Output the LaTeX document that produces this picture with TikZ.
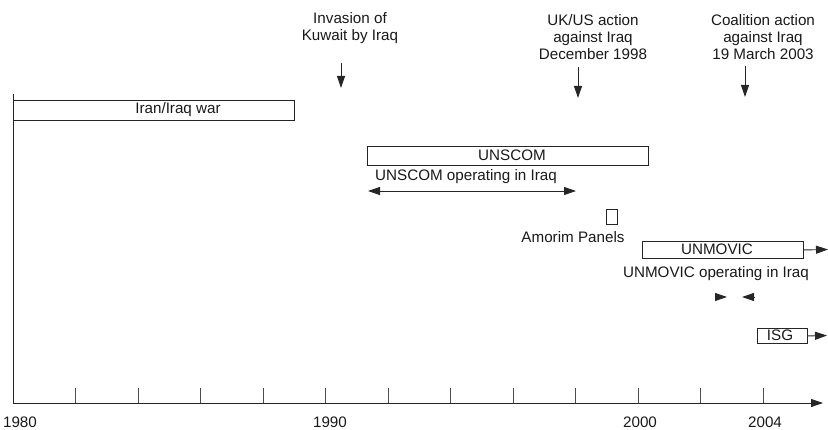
\documentclass[tikz,border=0pt]{standalone}
\usepackage{fontspec}
\setmainfont{Liberation Sans}
\usetikzlibrary{arrows.meta}
\begin{document}
\begin{tikzpicture}[x=1pt, y=-1pt,
  every node/.style={font=\fontsize{15.2}{17}\selectfont, text=black!90, inner sep=0pt},
  bar/.style={draw=black!85, line width=0.9pt, anchor=north west},
  pfeil/.style={draw=black!85, line width=0.9pt, -{Triangle[length=12pt, width=8pt]}}]
  \useasboundingbox (0, 0) rectangle (828, 430);
  % Zeitachse mit Jahresmarken (1 Jahr = 31.25)
  \coordinate (ursprung) at (13, 403);
  \coordinate (oben) at (13, 94);
  \coordinate (ende) at (823, 403);
  \draw[black!85, line width=0.9pt] (oben) -- (ursprung);
  \draw[pfeil] (ursprung) -- (ende);
  \foreach \i in {1,...,12}{ \draw[black!70, line width=0.9pt] (13+62.5*\i, 388) -- (13+62.5*\i, 403); }
  \node (j1980) at (20, 422) {1980};
  \node (j1990) at (330, 422) {1990};
  \node (j2000) at (640, 422) {2000};
  \node (j2004) at (765, 422) {2004};
  % Ereignisse oben
  \node[align=center] (kuwait) at (350, 28) {Invasion of\\Kuwait by Iraq};
  \coordinate (kuwaitA) at (341, 63); \coordinate (kuwaitB) at (341, 88);
  \draw[pfeil] (kuwaitA) -- (kuwaitB);
  \node[align=center] (ukus) at (593, 37) {UK/US action\\against Iraq\\December 1998};
  \coordinate (ukusA) at (578, 67); \coordinate (ukusB) at (578, 98);
  \draw[pfeil] (ukusA) -- (ukusB);
  \node[align=center] (koalition) at (763, 37) {Coalition action\\against Iraq\\19 March 2003};
  \coordinate (koalitionA) at (745, 66); \coordinate (koalitionB) at (745, 97);
  \draw[pfeil] (koalitionA) -- (koalitionB);
  % Iran/Irak-Krieg
  \node[bar, minimum width=281pt, minimum height=20pt] (iranbox) at (13, 100) {};
  \node (iran) at (178, 110) {Iran/Iraq war};
  % UNSCOM
  \node[bar, minimum width=281pt, minimum height=19pt] (unscombox) at (367, 146) {};
  \node (unscom) at (512, 155.5) {UNSCOM};
  \node (unscomirak) at (466, 177) {UNSCOM operating in Iraq};
  \coordinate (unscomA) at (368, 191); \coordinate (unscomB) at (576, 191);
  \draw[pfeil, {Triangle[length=12pt, width=8pt]}-{Triangle[length=12pt, width=8pt]}] (unscomA) -- (unscomB);
  % Amorim-Panels
  \node[bar, minimum width=11pt, minimum height=15pt] (amorimbox) at (606, 209) {};
  \node (amorim) at (573, 237) {Amorim Panels};
  % UNMOVIC
  \node[bar, minimum width=161pt, minimum height=17pt] (unmovicbox) at (642, 241) {};
  \node (unmovic) at (717, 249.5) {UNMOVIC};
  \coordinate (unmovicweiter) at (828, 249.5);
  \draw[pfeil] (unmovicbox.east) -- (unmovicweiter);
  \node (unmovicirak) at (716, 274) {UNMOVIC operating in Iraq};
  \coordinate (startA) at (715, 297); \coordinate (startB) at (727, 297);
  \coordinate (endeA) at (754, 297); \coordinate (endeB) at (742, 297);
  \draw[pfeil] (startA) -- (startB);
  \draw[pfeil] (endeA) -- (endeB);
  % ISG
  \node[bar, minimum width=50pt, minimum height=15pt] (isgbox) at (757, 328) {};
  \node (isg) at (780, 335.5) {ISG};
  \coordinate (isgweiter) at (827, 335.5);
  \draw[pfeil] (isgbox.east) -- (isgweiter);
\end{tikzpicture}
\end{document}
